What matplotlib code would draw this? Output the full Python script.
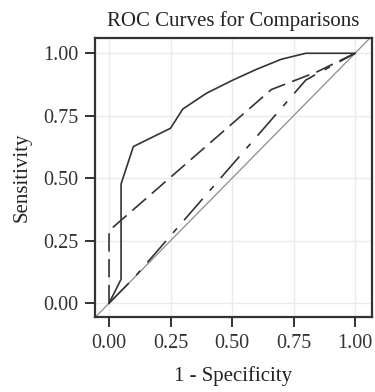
import numpy as np
import matplotlib
matplotlib.use('Agg')
import matplotlib.pyplot as plt

# ROC curves (x = 1 - specificity, y = sensitivity)
fpr_a = [0.0, 0.049, 0.049, 0.099, 0.25, 0.30, 0.396, 0.504, 0.60, 0.70, 0.80, 1.0]
tpr_a = [0.0, 0.096, 0.477, 0.627, 0.70, 0.777, 0.84, 0.893, 0.936, 0.976, 1.0, 1.0]

fpr_b = [0.0, 0.0, 0.66, 0.844, 1.0]
tpr_b = [0.0, 0.29, 0.855, 0.925, 1.0]

fpr_c = [0.0, 0.10, 0.80, 1.0]
tpr_c = [0.0, 0.10, 0.893, 1.0]

ticks = [0.0, 0.25, 0.5, 0.75, 1.0]
tick_labels = ['0.00', '0.25', '0.50', '0.75', '1.00']

plt.rcParams['font.family'] = ['Liberation Serif', 'DejaVu Serif']

fig = plt.figure(figsize=(3.75, 3.92), dpi=100)
ax = fig.add_axes([0.2533, 0.1913, 0.7387, 0.7117])

ax.plot([-0.06, 1.07], [-0.06, 1.07], color='#8c8c8c', lw=0.9, zorder=2)
ax.plot(fpr_a, tpr_a, color='#333333', lw=1.2, zorder=3)
ax.plot(fpr_b, tpr_b, color='#333333', lw=1.2, dashes=(11, 4.5), zorder=3)
ax.plot(fpr_c, tpr_c, color='#333333', lw=1.2, dashes=(17, 6.5, 3.6, 6.5), zorder=3)

ax.set_xlim(-0.057, 1.069)
ax.set_ylim(-0.055, 1.061)
ax.set_xticks(ticks)
ax.set_xticklabels(tick_labels)
ax.set_yticks(ticks)
ax.set_yticklabels(tick_labels)
ax.grid(True, color='#ebebeb', lw=1.0)
ax.set_axisbelow(True)
for s in ax.spines.values():
    s.set_color('#333333')
    s.set_linewidth(1.6)
ax.tick_params(axis='both', length=7, width=1.4, color='#333333',
               labelsize=14.5, labelcolor='#333333', pad=5)

ax.set_xlabel('1 - Specificity', fontsize=15, color='#222222', labelpad=10)
ax.set_ylabel('Sensitivity', fontsize=15, color='#222222', labelpad=8)
ax.set_title('ROC Curves for Comparisons', fontsize=15, color='#222222', pad=9)

fig.savefig('out.png', dpi=100)
